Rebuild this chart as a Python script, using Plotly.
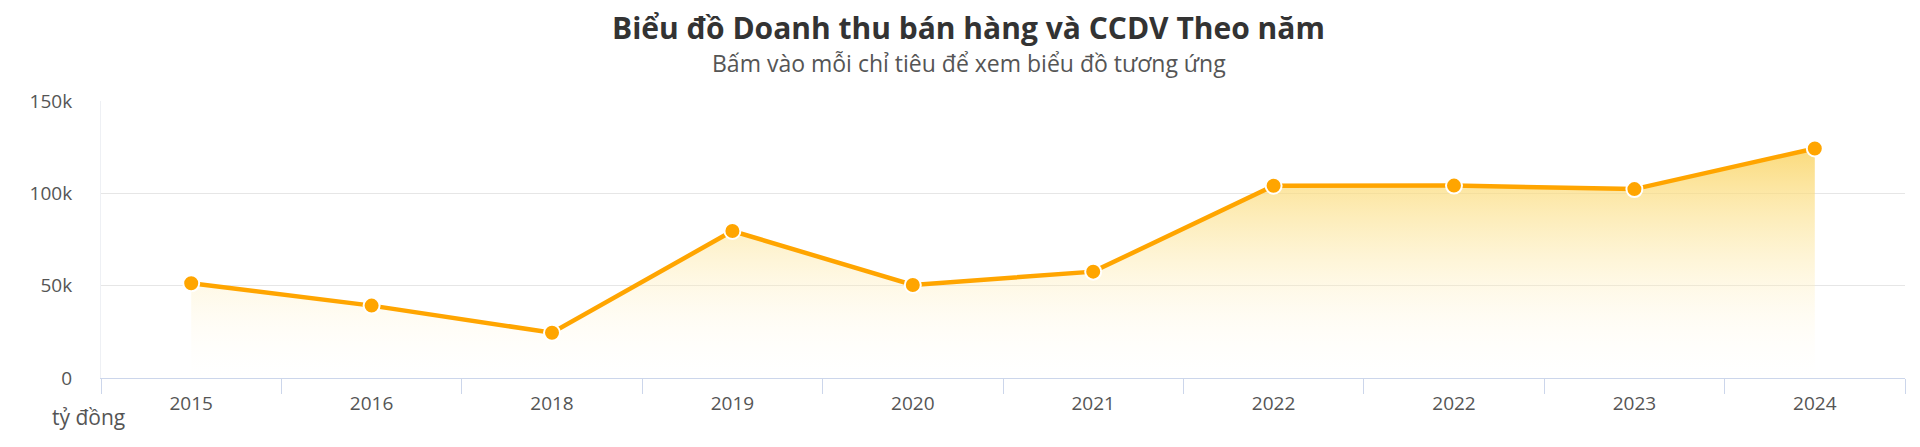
import plotly.graph_objects as go

years = ["2015", "2016", "2018", "2019", "2020", "2021", "2022", "2022", "2023", "2024"]
revenue = [51300, 39200, 24500, 79600, 50400, 57600, 104100, 104200, 102300, 124300]
y_ticks = [0, 50000, 100000, 150000]
y_tick_labels = ["0", "50k", "100k", "150k"]

title_text = "Biểu đồ Doanh thu bán hàng và CCDV Theo năm"
subtitle_text = "Bấm vào mỗi chỉ tiêu để xem biểu đồ tương ứng"
unit_text = "tỷ đồng"

FONT = "Open Sans, DejaVu Sans, sans-serif"
xs = list(range(len(years)))

fig = go.Figure()
fig.add_trace(go.Scatter(
    x=xs, y=revenue,
    mode="lines+markers",
    line=dict(color="#FFA500", width=4.5),
    marker=dict(size=16, color="#FFA500", line=dict(color="white", width=2)),
    fill="tozeroy",
    fillgradient=dict(
        type="vertical",
        start=0, stop=max(revenue),
        colorscale=[
            [0.0, "rgba(255,250,235,0)"],
            [0.18, "rgba(255,245,215,0.15)"],
            [0.6, "rgba(252,228,150,0.5)"],
            [1.0, "rgba(250,212,100,0.85)"],
        ],
    ),
    hoverinfo="x+y",
    showlegend=False,
))

fig.update_layout(
    width=1920, height=447,
    margin=dict(l=101, r=15, t=101, b=69),
    paper_bgcolor="white", plot_bgcolor="white",
    font=dict(family=FONT, color="#666666", size=19),
    xaxis=dict(
        range=[-0.5, len(years) - 0.5],
        tickmode="array", tickvals=xs, ticktext=years,
        ticks="", showgrid=False, zeroline=False,
        showline=True, linecolor="#ccd6eb", linewidth=1,
        tickfont=dict(size=19, color="#555555"),
        ticklabelstandoff=8,
        minor=dict(tickmode="linear", tick0=-0.5, dtick=1, ticks="outside",
                   ticklen=15, tickwidth=1, tickcolor="#ccd6eb", showgrid=False),
    ),
    yaxis=dict(
        range=[0, 150000],
        tickmode="array", tickvals=y_ticks, ticktext=y_tick_labels,
        showgrid=True, gridcolor="#e6e6e6", gridwidth=1,
        zeroline=False, showline=True, linecolor="#eef0f4", linewidth=1,
        ticks="", tickfont=dict(size=19, color="#555555"),
        ticklabelstandoff=24,
    ),
    annotations=[
        dict(text="<b>" + title_text + "</b>", xref="paper", yref="paper",
             x=0.481, y=(378.3 - 27) / 277.3, xanchor="center", yanchor="middle",
             showarrow=False, font=dict(size=30, color="#333333", family=FONT)),
        dict(text=subtitle_text, xref="paper", yref="paper",
             x=0.481, y=(378.3 - 63) / 277.3, xanchor="center", yanchor="middle",
             showarrow=False, font=dict(size=23, color="#555555", family=FONT)),
        dict(text=unit_text, xref="paper", yref="paper",
             x=(88 - 101) / 1804, y=(378.3 - 417) / 277.3, xanchor="center", yanchor="middle",
             showarrow=False, font=dict(size=21, color="#555555", family=FONT)),
    ],
)

fig.write_html("out.html", config={"displayModeBar": False},
               post_script="document.body.style.margin='0';document.body.style.padding='0';")
